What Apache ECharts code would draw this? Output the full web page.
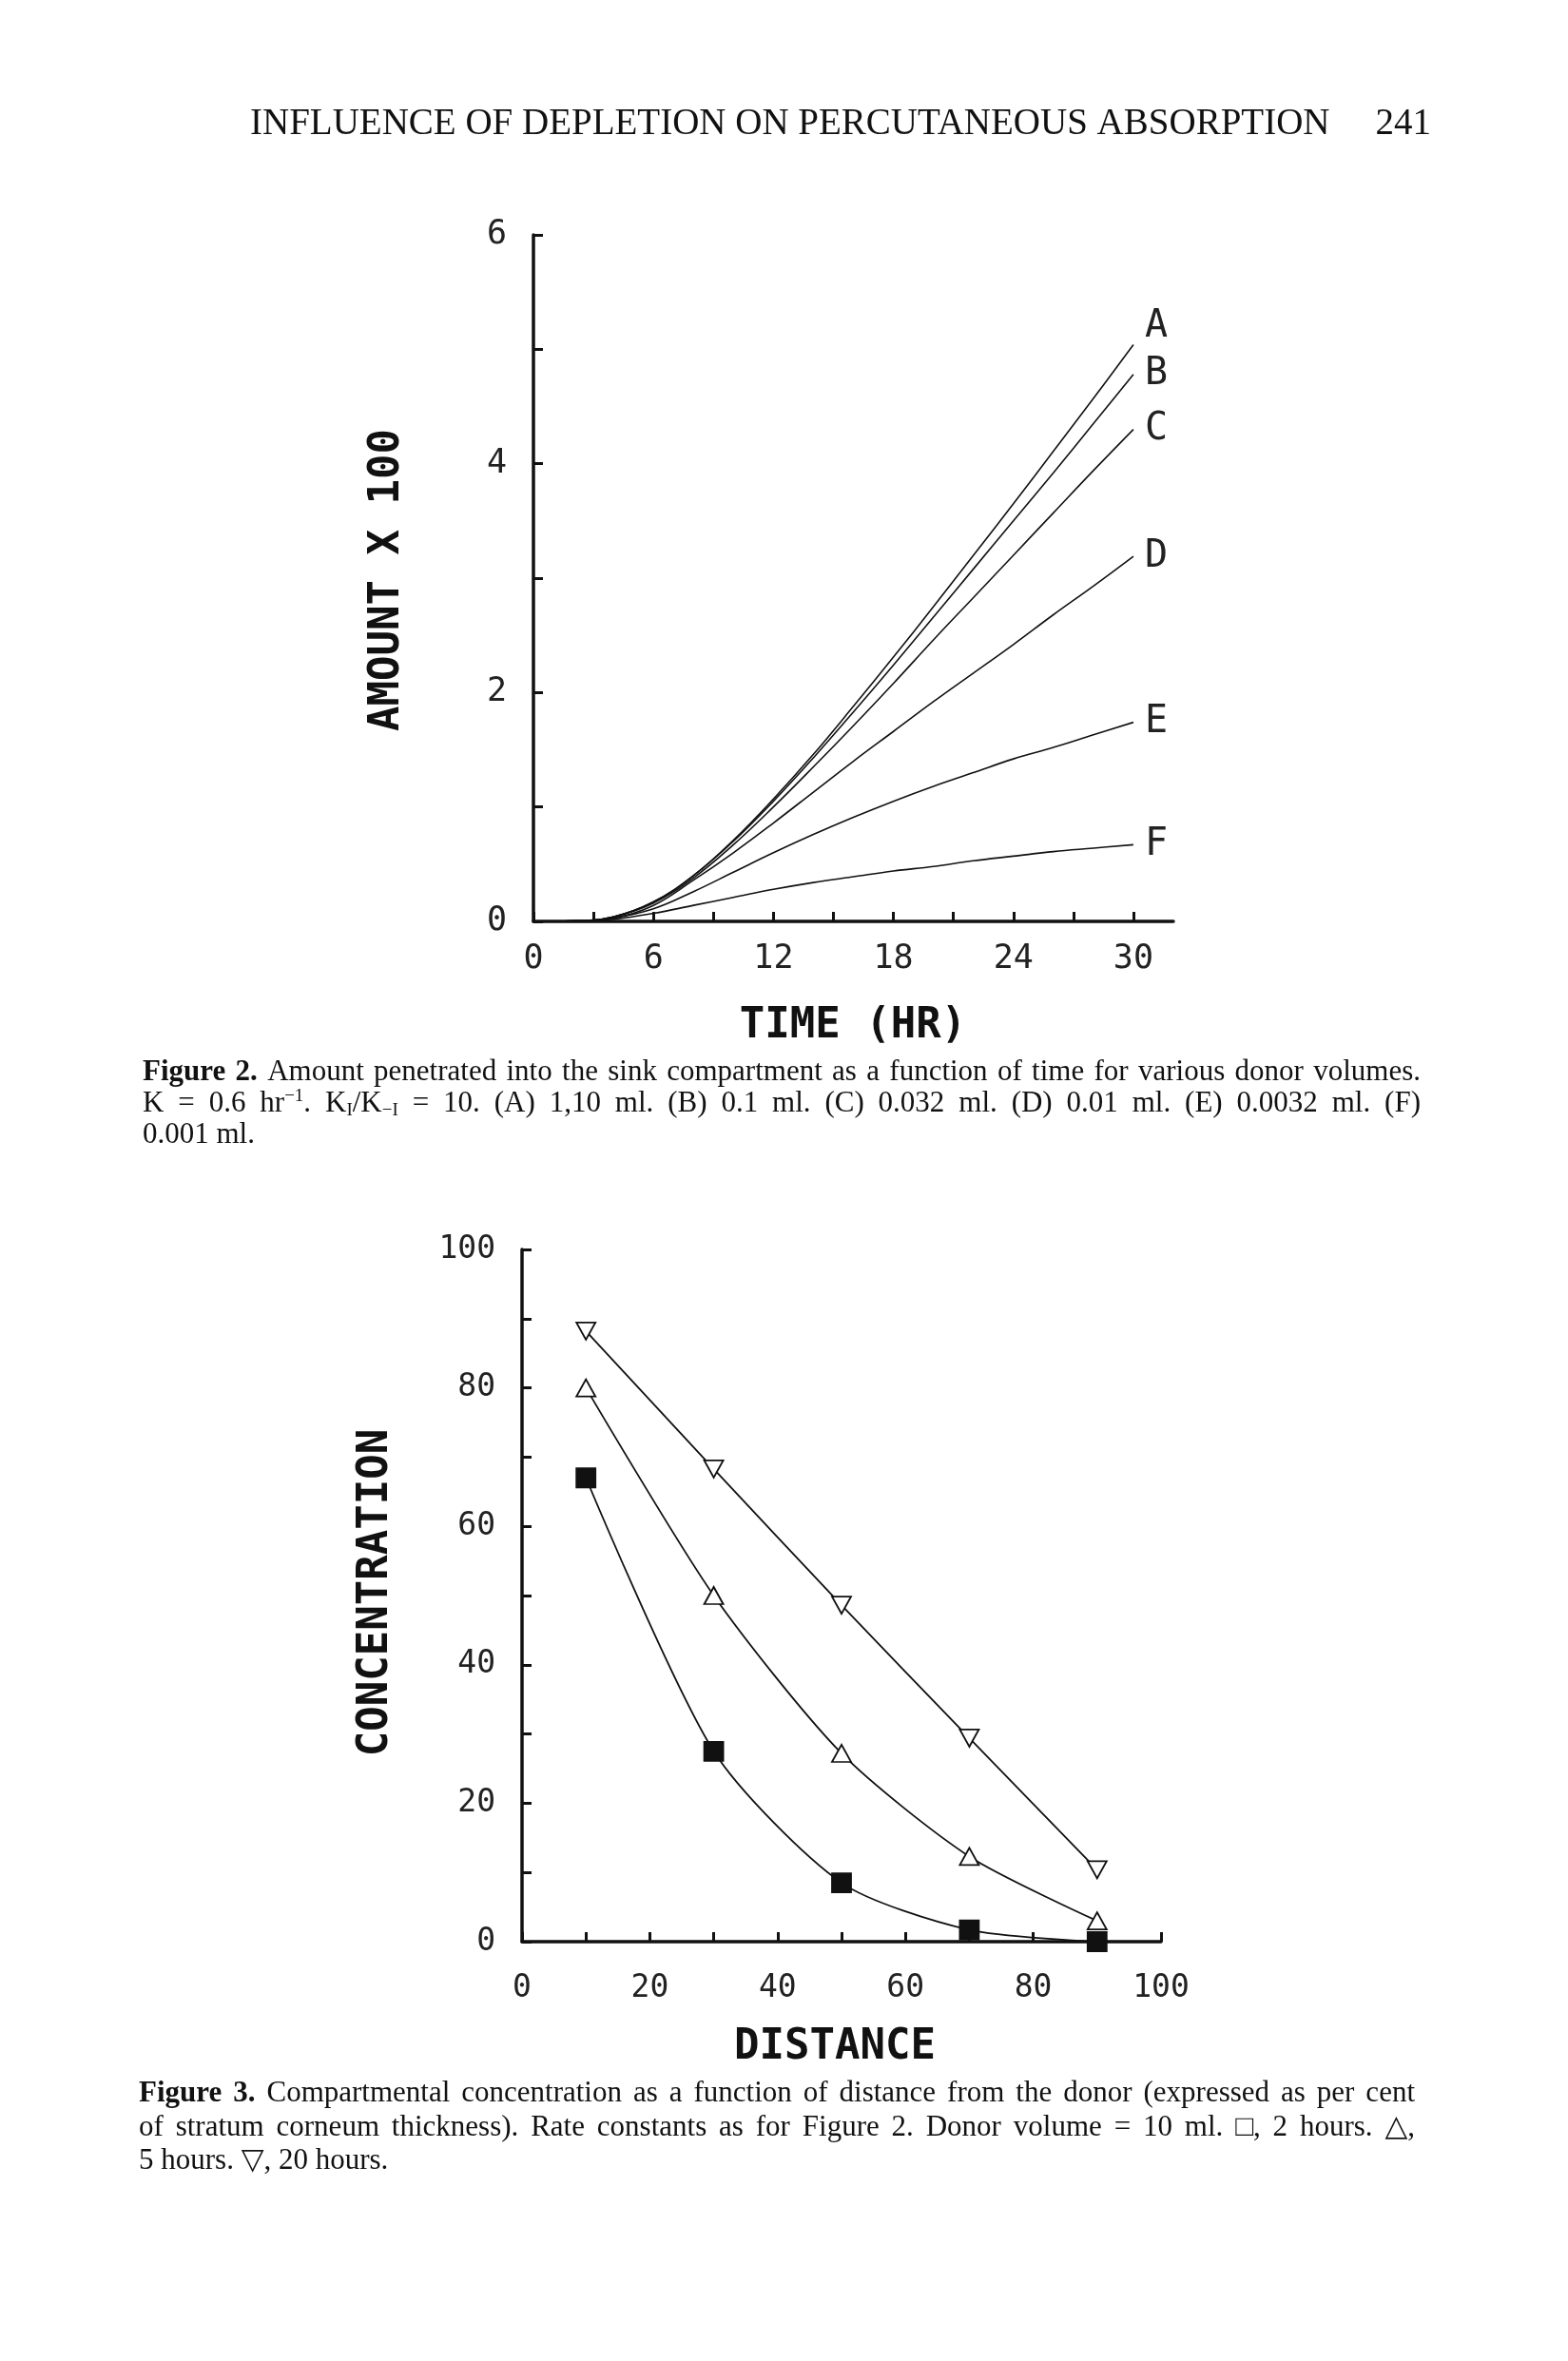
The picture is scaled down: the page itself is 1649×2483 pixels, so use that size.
<!DOCTYPE html>
<html>
<head>
<meta charset="utf-8">
<script src="https://cdn.jsdelivr.net/npm/echarts@6/dist/echarts.min.js"></script>
<style>
  html, body { margin: 0; padding: 0; background: #fff; }
  #chart { width: 1649px; height: 2483px; }
</style>
</head>
<body>
<div id="chart"></div>
<script>
// ---------- Figure 2 data ----------
const timeHr  = [0, 2, 4, 6, 8, 10, 12, 14, 16, 18, 20, 22, 24, 26, 28, 30];
const amountA = [0, 0.003, 0.04, 0.17, 0.40, 0.71, 1.07, 1.46, 1.88, 2.31, 2.75, 3.20, 3.65, 4.11, 4.57, 5.04];
const amountB = [0, 0.003, 0.04, 0.17, 0.40, 0.70, 1.05, 1.43, 1.83, 2.24, 2.66, 3.08, 3.50, 3.92, 4.35, 4.78];
const amountC = [0, 0.003, 0.04, 0.16, 0.38, 0.67, 1.00, 1.35, 1.71, 2.08, 2.46, 2.83, 3.20, 3.57, 3.94, 4.30];
const amountD = [0, 0.003, 0.03, 0.14, 0.36, 0.60, 0.86, 1.13, 1.40, 1.66, 1.92, 2.17, 2.42, 2.68, 2.93, 3.19];
const amountE = [0, 0.003, 0.03, 0.11, 0.26, 0.43, 0.60, 0.76, 0.91, 1.05, 1.18, 1.30, 1.42, 1.52, 1.63, 1.74];
const amountF = [0, 0.003, 0.02, 0.07, 0.14, 0.21, 0.28, 0.34, 0.39, 0.44, 0.48, 0.53, 0.57, 0.61, 0.64, 0.67];
const curveNames = ['A', 'B', 'C', 'D', 'E', 'F'];
const timeTicks = [0, 3, 6, 9, 12, 15, 18, 21, 24, 27, 30];
const timeLabels = [0, 6, 12, 18, 24, 30];
const amountTicks = [0, 1, 2, 3, 4, 5, 6];
const amountLabels = [0, 2, 4, 6];

// ---------- Figure 3 data ----------
const distance = [10, 30, 50, 70, 90];
const conc2h  = [67, 27.5, 8.5, 1.7, 0];
const conc5h  = [80, 50, 27.2, 12.3, 3];
const conc20h = [88.2, 68.3, 48.6, 29.4, 10.4];
const distTicks = [0, 10, 20, 30, 40, 50, 60, 70, 80, 90, 100];
const distLabels = [0, 20, 40, 60, 80, 100];
const concTicks = [0, 10, 20, 30, 40, 50, 60, 70, 80, 90, 100];
const concLabels = [0, 20, 40, 60, 80, 100];

// ---------- texts ----------
const headText = 'INFLUENCE OF DEPLETION ON PERCUTANEOUS ABSORPTION';
const pageNo = '241';
const fig2Lines = [
  '{b|Figure} {b|2.} Amount penetrated into the sink compartment as a function of time for various donor volumes.',
  'K = 0.6 hr{sup|\u22121}. K{sub|I}/K{sub|\u2212I} = 10. (A) 1,10 ml. (B) 0.1 ml. (C) 0.032 ml. (D) 0.01 ml. (E) 0.0032 ml. (F)',
  '0.001 ml.'
];
const fig3Lines = [
  '{b|Figure} {b|3.} Compartmental concentration as a function of distance from the donor (expressed as per cent',
  'of stratum corneum thickness). Rate constants as for Figure 2. Donor volume = 10 ml. \u25A1, 2 hours. \u25B3,',
  '5 hours. \u25BD, 20 hours.'
];

// ---------- styles ----------
const MONO = "'DejaVu Sans Mono', monospace";
const SERIF = "'Liberation Serif', 'DejaVu Serif', serif";
const INK = '#111';
const CAP_SIZE = 31;

function axisCommon(ticks, labels, fontSize, margin) {
  return {
    axisLine: { show: true, onZero: false, lineStyle: { color: INK, width: 3.5 } },
    axisTick: { show: true, inside: true, length: 10, customValues: ticks, lineStyle: { color: INK, width: 3 } },
    axisLabel: {
      show: true, customValues: labels, margin: margin, color: '#222',
      fontFamily: MONO, fontSize: fontSize,
      formatter: v => (labels.indexOf(v) >= 0 ? String(v) : '')
    },
    splitLine: { show: false },
    minorTick: { show: false }
  };
}

const amountSets = [amountA, amountB, amountC, amountD, amountE, amountF];
const labelOffsets = [[0, -19], [0, 0], [0, 0], [0, 0], [0, 0], [0, 0]];

const fig2Series = amountSets.map((arr, i) => ({
  type: 'line',
  xAxisIndex: 0, yAxisIndex: 0,
  data: timeHr.map((t, k) => [t, arr[k]]),
  smooth: 0.4,
  showSymbol: false,
  symbol: 'none',
  clip: false,
  lineStyle: { color: INK, width: 1.6 },
  endLabel: {
    show: true,
    formatter: () => curveNames[i],
    distance: 12,
    offset: labelOffsets[i],
    fontFamily: MONO, fontSize: 40, color: '#222'
  },
  z: 3
}));

function markerSeries(yData, symbol, rotate, fill, size) {
  return {
    type: 'line',
    xAxisIndex: 1, yAxisIndex: 1,
    data: distance.map((d, k) => [d, yData[k]]),
    smooth: 0.25,
    symbol: symbol,
    symbolRotate: rotate,
    symbolSize: size,
    showSymbol: true,
    showAllSymbol: true,
    clip: false,
    lineStyle: { color: INK, width: 1.8 },
    itemStyle: { color: fill, borderColor: INK, borderWidth: 1.8, opacity: 1 },
    z: 4
  };
}

// ---------- caption layout (justified lines) ----------
const richDefs = {
  b:   { size: CAP_SIZE, weight: 'bold' },
  sup: { size: 19, weight: 'normal' },
  sub: { size: 19, weight: 'normal' }
};
const captionRich = {
  b:   { fontFamily: SERIF, fontSize: CAP_SIZE, fontWeight: 'bold', fill: INK, lineHeight: 34 },
  sup: { fontFamily: SERIF, fontSize: 19, fill: INK, verticalAlign: 'top', lineHeight: 34 },
  sub: { fontFamily: SERIF, fontSize: 19, fill: INK, verticalAlign: 'bottom', lineHeight: 30 }
};
const measureCtx = document.createElement('canvas').getContext('2d');
function measureWord(word) {
  const re = /\{(\w+)\|([^}]*)\}/g;
  let last = 0, w = 0, m;
  const plain = s => { measureCtx.font = 'normal ' + CAP_SIZE + 'px ' + SERIF; return measureCtx.measureText(s).width; };
  while ((m = re.exec(word)) !== null) {
    if (m.index > last) w += plain(word.slice(last, m.index));
    const d = richDefs[m[1]];
    measureCtx.font = d.weight + ' ' + d.size + 'px ' + SERIF;
    w += measureCtx.measureText(m[2]).width;
    last = re.lastIndex;
  }
  if (last < word.length) w += plain(word.slice(last));
  return w;
}
function textEl(str, x, y) {
  return {
    type: 'text', x: x, y: y, silent: true,
    style: {
      text: str, fontFamily: SERIF, fontSize: CAP_SIZE, fill: INK,
      align: 'left', verticalAlign: 'middle', lineHeight: 34, rich: captionRich
    }
  };
}
function justifiedLine(line, x0, x1, y) {
  const words = line.split(' ');
  const widths = words.map(measureWord);
  const total = widths.reduce((a, b) => a + b, 0);
  const gap = Math.max(4, (x1 - x0 - total) / (words.length - 1));
  const els = [];
  let x = x0;
  words.forEach((w, i) => { els.push(textEl(w, x, y)); x += widths[i] + gap; });
  return els;
}

function titleText(str, x, y, rot, size) {
  return {
    type: 'text', x: x, y: y, rotation: rot, silent: true,
    style: {
      text: str, fontFamily: MONO, fontSize: size, fontWeight: 'bold', fill: INK,
      align: 'center', verticalAlign: 'middle'
    }
  };
}

const graphics = [
  { type: 'text', x: 263, y: 131, silent: true,
    style: { text: headText, fontFamily: SERIF, fontSize: 39, fill: INK, align: 'left', verticalAlign: 'middle' } },
  { type: 'text', x: 1505, y: 131, silent: true,
    style: { text: pageNo, fontFamily: SERIF, fontSize: 39, fill: INK, align: 'right', verticalAlign: 'middle' } },
  titleText('AMOUNT X 100', 408, 610, Math.PI / 2, 44),
  titleText('TIME (HR)', 897, 1080, 0, 44),
  titleText('CONCENTRATION', 396, 1675, Math.PI / 2, 44),
  titleText('DISTANCE', 878, 2154, 0, 44)
].concat(
  justifiedLine(fig2Lines[0], 150, 1494, 1128),
  justifiedLine(fig2Lines[1], 150, 1494, 1161),
  [textEl(fig2Lines[2], 150, 1194)],
  justifiedLine(fig3Lines[0], 146, 1488, 2202),
  justifiedLine(fig3Lines[1], 146, 1488, 2238),
  [textEl(fig3Lines[2], 146, 2273)]
);

const option = {
  animation: false,
  backgroundColor: '#ffffff',
  grid: [
    { left: 561, top: 247, width: 673, height: 722, containLabel: false, outerBoundsMode: 'none' },
    { left: 549, top: 1314, width: 672, height: 728, containLabel: false, outerBoundsMode: 'none' }
  ],
  xAxis: [
    Object.assign({ type: 'value', gridIndex: 0, min: 0, max: 32, interval: 3 }, axisCommon(timeTicks, timeLabels, 35, 22)),
    Object.assign({ type: 'value', gridIndex: 1, min: 0, max: 100, interval: 10 }, axisCommon(distTicks, distLabels, 33, 33))
  ],
  yAxis: [
    Object.assign({ type: 'value', gridIndex: 0, min: 0, max: 6, interval: 1 }, axisCommon(amountTicks, amountLabels, 35, 28)),
    Object.assign({ type: 'value', gridIndex: 1, min: 0, max: 100, interval: 10 }, axisCommon(concTicks, concLabels, 33, 28))
  ],
  series: fig2Series.concat([
    markerSeries(conc20h, 'triangle', 180, '#ffffff', [20, 18]),
    markerSeries(conc5h, 'triangle', 0, '#ffffff', [20, 18]),
    markerSeries(conc2h, 'rect', 0, INK, 20)
  ]),
  graphic: graphics
};

const chart = echarts.init(document.getElementById('chart'), null, { renderer: 'canvas', width: 1649, height: 2483 });
chart.setOption(option);
</script>
</body>
</html>
